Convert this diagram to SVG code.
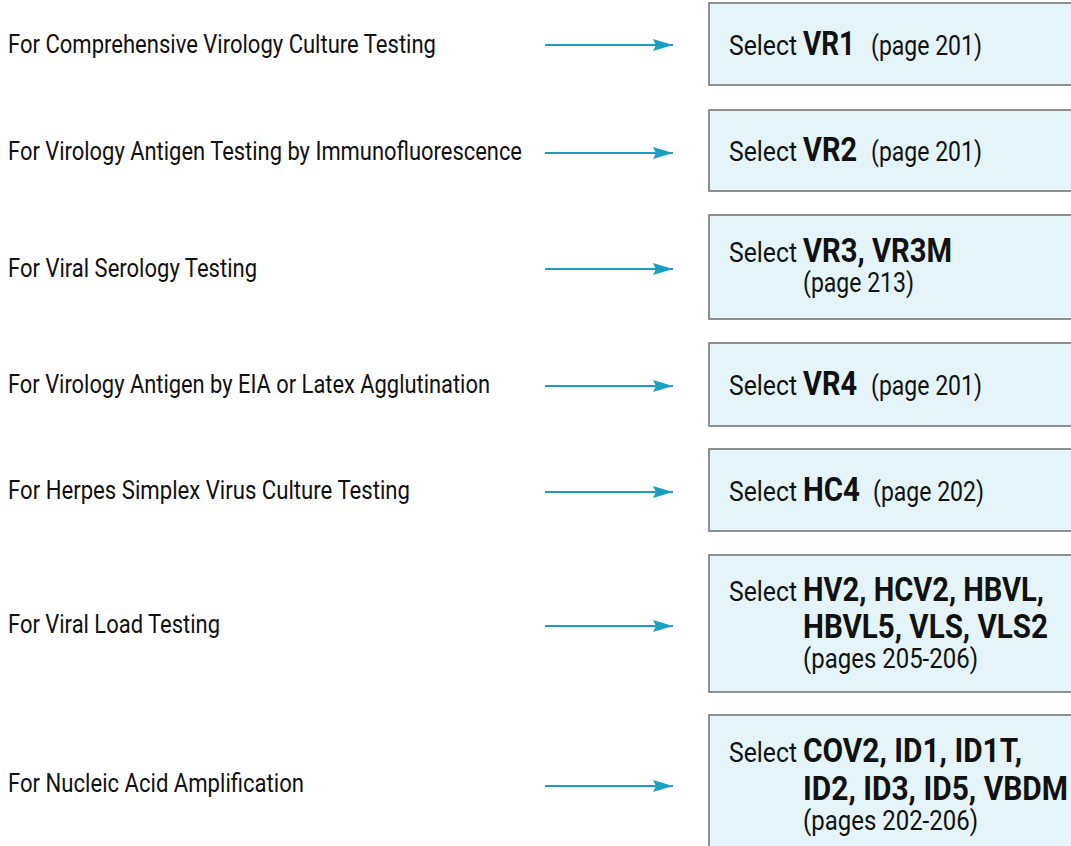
<svg xmlns="http://www.w3.org/2000/svg" width="1071" height="846" viewBox="0 0 1071 846">
  <style>
    .lbl { font-family: Roboto, "Liberation Sans", sans-serif; font-size: 25px; fill: #111111; }
    .sel { font-family: Roboto, "Liberation Sans", sans-serif; font-size: 27px; fill: #111111; }
    .code { font-family: Roboto, "Liberation Sans", sans-serif; font-size: 33px; font-weight: bold; fill: #111111; }
    .pg { font-family: Roboto, "Liberation Sans", sans-serif; font-size: 27px; fill: #111111; }
    .box { fill: #e4f4f8; stroke: #6e6e6e; stroke-width: 1.5; }
    .conn { stroke: #1a9fc4; stroke-width: 2; fill: none; marker-end: url(#head); }
  </style>
  <defs>
    <marker id="head" markerWidth="22" markerHeight="14" refX="20" refY="7" orient="auto" markerUnits="userSpaceOnUse">
      <path d="M0,1 L20,7 L0,13 L3,7 Z" fill="#1a9fc4"/>
    </marker>
  </defs>
  <rect width="1071" height="846" fill="#ffffff"/>

  <!-- left-hand test descriptions -->
  <g id="label-1"><text class="lbl" x="8" y="53" textLength="428" lengthAdjust="spacingAndGlyphs">For Comprehensive Virology Culture Testing</text></g>
  <g id="label-2"><text class="lbl" x="8" y="160" textLength="514" lengthAdjust="spacingAndGlyphs">For Virology Antigen Testing by Immunofluorescence</text></g>
  <g id="label-3"><text class="lbl" x="8" y="277" textLength="249" lengthAdjust="spacingAndGlyphs">For Viral Serology Testing</text></g>
  <g id="label-4"><text class="lbl" x="8" y="393" textLength="482" lengthAdjust="spacingAndGlyphs">For Virology Antigen by EIA or Latex Agglutination</text></g>
  <g id="label-5"><text class="lbl" x="8" y="499" textLength="402" lengthAdjust="spacingAndGlyphs">For Herpes Simplex Virus Culture Testing</text></g>
  <g id="label-6"><text class="lbl" x="8" y="633" textLength="212" lengthAdjust="spacingAndGlyphs">For Viral Load Testing</text></g>
  <g id="label-7"><text class="lbl" x="8" y="792" textLength="296" lengthAdjust="spacingAndGlyphs">For Nucleic Acid Amplification</text></g>

  <!-- connectors -->
  <g id="connectors">
    <line class="conn" x1="545" y1="45" x2="673" y2="45"/>
    <line class="conn" x1="545" y1="153" x2="673" y2="153"/>
    <line class="conn" x1="545" y1="269" x2="673" y2="269"/>
    <line class="conn" x1="545" y1="386" x2="673" y2="386"/>
    <line class="conn" x1="545" y1="492" x2="673" y2="492"/>
    <line class="conn" x1="545" y1="626" x2="673" y2="626"/>
    <line class="conn" x1="545" y1="786" x2="673" y2="786"/>
  </g>

  <!-- selection boxes -->
  <g id="box-vr1">
    <rect class="box" x="709" y="3" width="380" height="82"/>
    <text class="sel" x="729" y="55" textLength="68" lengthAdjust="spacingAndGlyphs">Select</text>
    <text class="code" x="803" y="55" textLength="52" lengthAdjust="spacingAndGlyphs">VR1</text>
    <text class="pg" x="871" y="55" textLength="111" lengthAdjust="spacingAndGlyphs">(page 201)</text>
  </g>
  <g id="box-vr2">
    <rect class="box" x="709" y="110" width="380" height="81"/>
    <text class="sel" x="729" y="161" textLength="68" lengthAdjust="spacingAndGlyphs">Select</text>
    <text class="code" x="803" y="161" textLength="54" lengthAdjust="spacingAndGlyphs">VR2</text>
    <text class="pg" x="871" y="161" textLength="111" lengthAdjust="spacingAndGlyphs">(page 201)</text>
  </g>
  <g id="box-vr3">
    <rect class="box" x="709" y="215" width="380" height="104"/>
    <text class="sel" x="729" y="262" textLength="68" lengthAdjust="spacingAndGlyphs">Select</text>
    <text class="code" x="803" y="262" textLength="149" lengthAdjust="spacingAndGlyphs">VR3, VR3M</text>
    <text class="pg" x="803" y="292" textLength="111" lengthAdjust="spacingAndGlyphs">(page 213)</text>
  </g>
  <g id="box-vr4">
    <rect class="box" x="709" y="343" width="380" height="83"/>
    <text class="sel" x="729" y="395" textLength="68" lengthAdjust="spacingAndGlyphs">Select</text>
    <text class="code" x="803" y="395" textLength="54" lengthAdjust="spacingAndGlyphs">VR4</text>
    <text class="pg" x="871" y="395" textLength="111" lengthAdjust="spacingAndGlyphs">(page 201)</text>
  </g>
  <g id="box-hc4">
    <rect class="box" x="709" y="449" width="380" height="82"/>
    <text class="sel" x="729" y="501" textLength="68" lengthAdjust="spacingAndGlyphs">Select</text>
    <text class="code" x="803" y="501" textLength="57" lengthAdjust="spacingAndGlyphs">HC4</text>
    <text class="pg" x="873" y="501" textLength="111" lengthAdjust="spacingAndGlyphs">(page 202)</text>
  </g>
  <g id="box-viral-load">
    <rect class="box" x="709" y="555" width="380" height="137"/>
    <text class="sel" x="729" y="601" textLength="68" lengthAdjust="spacingAndGlyphs">Select</text>
    <text class="code" x="803" y="601" textLength="241" lengthAdjust="spacingAndGlyphs">HV2, HCV2, HBVL,</text>
    <text class="code" x="803" y="638" textLength="245" lengthAdjust="spacingAndGlyphs">HBVL5, VLS, VLS2</text>
    <text class="pg" x="803" y="668" textLength="175" lengthAdjust="spacingAndGlyphs">(pages 205-206)</text>
  </g>
  <g id="box-naa">
    <rect class="box" x="709" y="715" width="380" height="150"/>
    <text class="sel" x="729" y="762" textLength="68" lengthAdjust="spacingAndGlyphs">Select</text>
    <text class="code" x="803" y="762" textLength="219" lengthAdjust="spacingAndGlyphs">COV2, ID1, ID1T,</text>
    <text class="code" x="803" y="800" textLength="265" lengthAdjust="spacingAndGlyphs">ID2, ID3, ID5, VBDM</text>
    <text class="pg" x="803" y="830" textLength="175" lengthAdjust="spacingAndGlyphs">(pages 202-206)</text>
  </g>
</svg>
